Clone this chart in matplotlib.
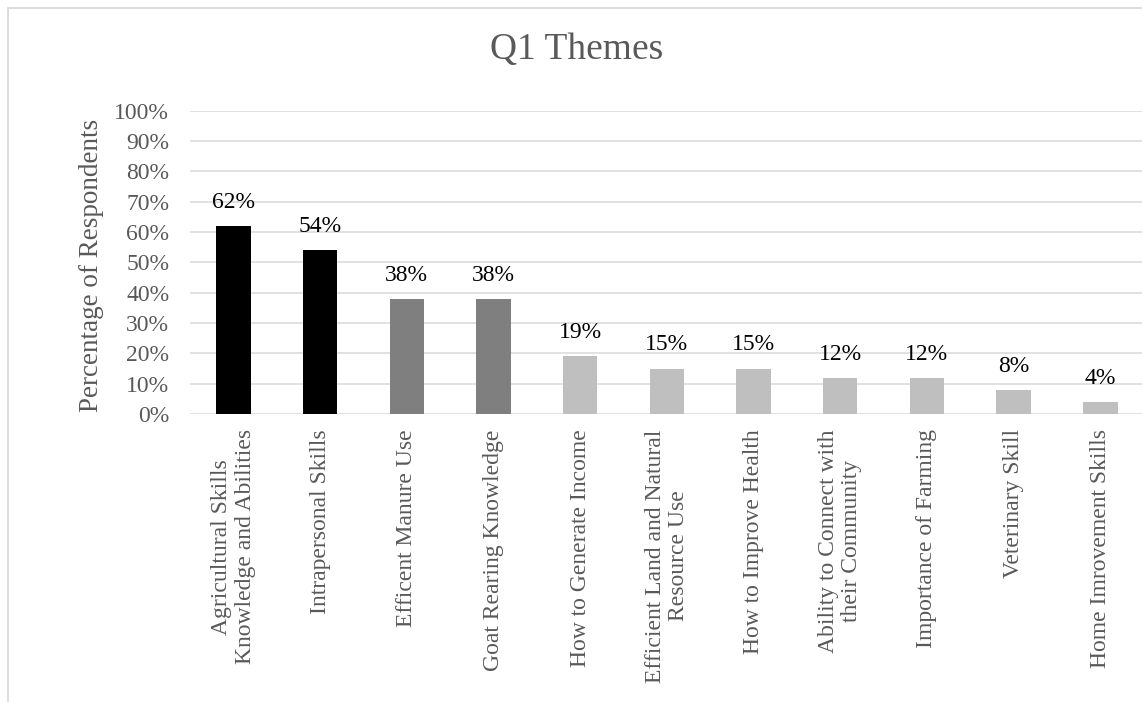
import matplotlib
matplotlib.use("Agg")
import matplotlib.pyplot as plt
from matplotlib.patches import Rectangle
from matplotlib.ticker import FuncFormatter, MultipleLocator

# Survey themes and share of respondents mentioning each
categories = [
    "Agricultural Skills\nKnowledge and Abilities",
    "Intrapersonal Skills",
    "Efficent Manure Use",
    "Goat Rearing Knowledge",
    "How to Generate Income",
    "Efficient Land and Natural\nResource Use",
    "How to Improve Health",
    "Ability to Connect with\ntheir Community",
    "Importance of Farming",
    "Veterinary Skill",
    "Home Imrovement Skills",
]
percent = [62, 54, 38, 38, 19, 15, 15, 12, 12, 8, 4]
bar_colors = ["#000000", "#000000", "#7f7f7f", "#7f7f7f",
              "#bfbfbf", "#bfbfbf", "#bfbfbf", "#bfbfbf",
              "#bfbfbf", "#bfbfbf", "#bfbfbf"]

plt.rcParams["font.family"] = ["Liberation Serif", "DejaVu Serif"]

W, H = 1142, 702
fig = plt.figure(figsize=(W / 100, H / 100), dpi=100)

# light outer chart frame
fig.patches.append(Rectangle((8 / W, -0.1), 1.2, 1.1 - 8 / H,
                             transform=fig.transFigure, fill=False,
                             edgecolor="#d9d9d9", linewidth=1.3))

ax = fig.add_axes([190 / W, 1 - 414 / H, 953.7 / W, 303.3 / H])

x = list(range(len(categories)))
values = [p / 100 for p in percent]
bars = ax.bar(x, values, width=0.396, color=bar_colors, zorder=3)

for xi, v, p in zip(x, values, percent):
    ax.annotate(f"{p}%", (xi, v), xytext=(0, 13), textcoords="offset points",
                ha="center", va="baseline", fontsize=17, color="#000000")

ax.set_xlim(-0.5, len(categories) - 0.5)
ax.set_ylim(0, 1.0)
ax.yaxis.set_major_locator(MultipleLocator(0.1))
ax.yaxis.set_major_formatter(FuncFormatter(lambda v, _: f"{v * 100:.0f}%"))
ax.grid(axis="y", color="#d9d9d9", linewidth=1.1, zorder=0)
ax.set_axisbelow(True)

for s in ax.spines.values():
    s.set_visible(False)

ax.tick_params(axis="both", length=0, labelsize=17, labelcolor="#595959")
ax.tick_params(axis="y", pad=15)
ax.tick_params(axis="x", pad=11)
ax.set_xticks(x)
ax.set_xticklabels(categories, rotation=90, ha="center", va="top",
                   multialignment="center", linespacing=1.15)

fig.text(92 / W, 1 - 265 / H, "Percentage of Respondents", rotation=90,
         ha="center", va="center", fontsize=19.5, color="#595959")
fig.text(577 / W, 1 - 50 / H, "Q1 Themes", ha="center", va="center",
         fontsize=27, color="#595959")

fig.savefig("out.png", dpi=100)
